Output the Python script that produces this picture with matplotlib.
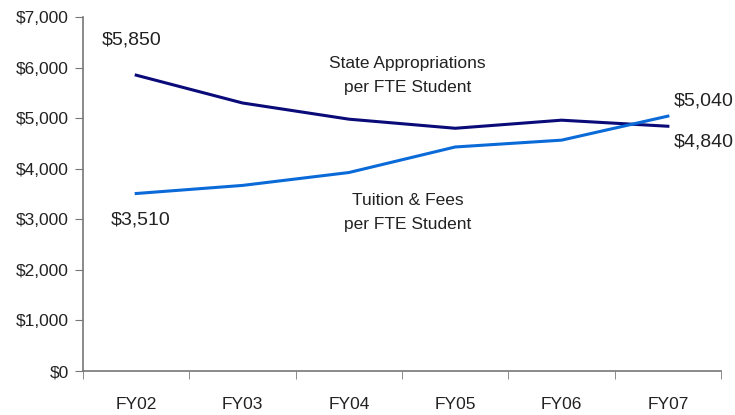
import matplotlib
matplotlib.use("Agg")
import matplotlib.pyplot as plt
from matplotlib import font_manager
from matplotlib.ticker import FuncFormatter, FixedLocator

years = ["FY02", "FY03", "FY04", "FY05", "FY06", "FY07"]
state_approp = [5850, 5300, 4980, 4800, 4960, 4840]
tuition_fees = [3510, 3670, 3925, 4430, 4565, 5040]
yticks = [0, 1000, 2000, 3000, 4000, 5000, 6000, 7000]

names = {f.name for f in font_manager.fontManager.ttflist}
fam = "Liberation Sans Narrow" if "Liberation Sans Narrow" in names else "Liberation Sans"
plt.rcParams["font.family"] = [fam, "DejaVu Sans"]

fig = plt.figure(figsize=(7.35, 4.15), dpi=100)
ax = fig.add_axes([0.113, 0.106, 0.868, 0.853])

navy = "#0a0a78"
light = "#0a6ad8"
x = list(range(len(years)))
ax.plot(x, state_approp, color=navy, lw=2.2)
ax.plot(x, tuition_fees, color=light, lw=2.2)

ax.set_xlim(-0.5, len(years) - 0.5)
ax.set_ylim(0, 7000)
ax.set_yticks(yticks)
ax.yaxis.set_major_formatter(FuncFormatter(lambda v, p: f"${v:,.0f}"))
ax.set_xticks(x)
ax.set_xticklabels(years)
ax.xaxis.set_minor_locator(FixedLocator([i - 0.5 for i in range(len(years) + 1)]))
ax.tick_params(axis="x", which="major", length=0, pad=19, labelsize=12.5, colors="#222222")
ax.tick_params(axis="x", which="minor", length=6, color="#777777", direction="out")
ax.tick_params(axis="y", length=6, color="#777777", labelsize=12.5, colors="#222222", pad=4)
for s in ["top", "right"]:
    ax.spines[s].set_visible(False)
for s in ["left", "bottom"]:
    ax.spines[s].set_color("#777777")
    ax.spines[s].set_linewidth(1.2)

fs = 14
ax.annotate(f"${state_approp[0]:,}", (0, state_approp[0]), xytext=(-3, 25),
            textcoords="offset points", ha="center", va="center", fontsize=fs, color="#222222")
ax.annotate(f"${tuition_fees[0]:,}", (0, tuition_fees[0]), xytext=(3, -19),
            textcoords="offset points", ha="center", va="center", fontsize=fs, color="#222222")
ax.annotate(f"${tuition_fees[-1]:,}", (5, tuition_fees[-1]), xytext=(4, 11),
            textcoords="offset points", ha="left", va="center", fontsize=fs, color="#222222")
ax.annotate(f"${state_approp[-1]:,}", (5, state_approp[-1]), xytext=(4, -11),
            textcoords="offset points", ha="left", va="center", fontsize=fs, color="#222222")

ax.text(2.55, 5840, "State Appropriations\nper FTE Student", ha="center", va="center",
        fontsize=12.5, color="#222222", linespacing=1.75)
ax.text(2.55, 3130, "Tuition & Fees\nper FTE Student", ha="center", va="center",
        fontsize=12.5, color="#222222", linespacing=1.75)

fig.savefig("out.png", dpi=100)
